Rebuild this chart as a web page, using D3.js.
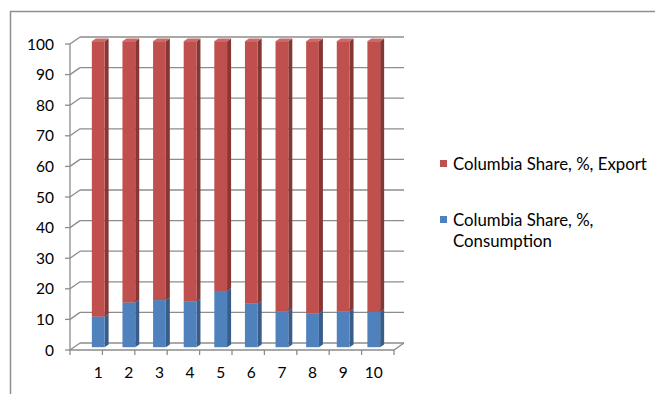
<!DOCTYPE html>
<html>
<head>
<meta charset="utf-8">
<script src="https://cdn.jsdelivr.net/npm/d3@7"></script>
<style>
  html, body { margin: 0; padding: 0; background: #fff; }
  svg text { font-family: Lato, "Open Sans", sans-serif; fill: #000; }
</style>
</head>
<body>
<svg id="chart" width="655" height="394"></svg>
<script>
// Categories and stacked series (percent shares)
const categories = ["1", "2", "3", "4", "5", "6", "7", "8", "9", "10"];
const consumption = [10, 14.6, 15.4, 14.9, 18.4, 14.3, 11.8, 11.0, 11.7, 11.5];
const exportShare = [90, 85.4, 84.6, 85.1, 81.6, 85.7, 88.2, 89.0, 88.3, 88.5];
const yTicks = [0, 10, 20, 30, 40, 50, 60, 70, 80, 90, 100];
const seriesNames = ["Columbia Share, %, Export", "Columbia Share, %, Consumption"];

const colors = {
  consumption: { front: "#4f81bd", side: "#385d8a", top: "#6a95c9" },
  export: { front: "#c0504d", side: "#863734", top: "#cd6a67" }
};

const svg = d3.select("#chart");

// Chart border
svg.append("path")
  .attr("d", "M10.5,394 V11.5 H655")
  .attr("fill", "none")
  .attr("stroke", "#8e8e8e")
  .attr("stroke-width", 1.5);

// Front plane of the 3D plot box
const x = d3.scaleBand().domain(categories).range([70, 394]).padding(0.583);
const xEdge = d3.scaleLinear().domain([0, categories.length]).range([70, 394]);
const y = d3.scaleLinear().domain([0, 100]).range([350, 44]);

// Depth vector of the box (front -> back)
const DX = 10, DY = -7;
const depth = f => [DX * f, DY * f];

const grid = "#8c8c8c";
const g = svg.append("g");

// Back-wall gridlines and left-wall diagonals
yTicks.forEach(v => {
  const yy = y(v);
  g.append("line")
    .attr("x1", 70 + DX).attr("x2", 394 + DX)
    .attr("y1", yy + DY).attr("y2", yy + DY)
    .attr("stroke", grid).attr("stroke-width", 1.3);
  g.append("line")
    .attr("x1", 70).attr("y1", yy)
    .attr("x2", 70 + DX).attr("y2", yy + DY)
    .attr("stroke", grid).attr("stroke-width", 1.3);
  // tick mark
  g.append("line")
    .attr("x1", 65).attr("x2", 70)
    .attr("y1", yy).attr("y2", yy)
    .attr("stroke", grid).attr("stroke-width", 1.3);
});

// Front vertical axis line
g.append("line")
  .attr("x1", 70).attr("x2", 70)
  .attr("y1", y(100)).attr("y2", y(0))
  .attr("stroke", grid).attr("stroke-width", 1.3);

// Floor front edge and right edge
g.append("path")
  .attr("d", `M70,${y(0)} H394 L${394 + DX},${y(0) + DY}`)
  .attr("fill", "none").attr("stroke", grid).attr("stroke-width", 1.3);

// Category ticks
d3.range(categories.length + 1).forEach(i => {
  g.append("line")
    .attr("x1", xEdge(i)).attr("x2", xEdge(i))
    .attr("y1", y(0)).attr("y2", y(0) + 5)
    .attr("stroke", grid).attr("stroke-width", 1.3);
});

// Y labels
svg.append("g").selectAll("text").data(yTicks).join("text")
  .attr("x", 54).attr("y", d => y(d))
  .attr("dy", "0.36em")
  .attr("text-anchor", "end")
  .attr("font-size", 15.5)
  .text(d => d);

// X labels
svg.append("g").selectAll("text").data(categories).join("text")
  .attr("x", d => x(d) + x.bandwidth() / 2 + 4)
  .attr("y", 378)
  .attr("text-anchor", "middle")
  .attr("font-size", 15.5)
  .text(d => d);

// 3D stacked columns
const FRONT = 0.4, BACK = 0.8;
const [fx, fy] = depth(FRONT);
const [bx, by] = depth(BACK);
const sx = bx - fx, sy = by - fy;

function drawBlock(parent, x0, w, v0, v1, c) {
  const left = x0 + fx, right = left + w;
  const bottom = y(v0) + fy, top = y(v1) + fy;
  // side face
  parent.append("path")
    .attr("d", `M${right},${bottom} L${right + sx},${bottom + sy} L${right + sx},${top + sy} L${right},${top} Z`)
    .attr("fill", c.side);
  // top face
  parent.append("path")
    .attr("d", `M${left},${top} L${right},${top} L${right + sx},${top + sy} L${left + sx},${top + sy} Z`)
    .attr("fill", c.top);
  // front face
  parent.append("rect")
    .attr("x", left).attr("y", top)
    .attr("width", w).attr("height", bottom - top)
    .attr("fill", c.front);
}

const bars = svg.append("g");
categories.forEach((cat, i) => {
  const bg = bars.append("g");
  const x0 = x(cat), w = x.bandwidth();
  drawBlock(bg, x0, w, 0, consumption[i], colors.consumption);
  drawBlock(bg, x0, w, consumption[i], consumption[i] + exportShare[i], colors.export);
});

// Legend
const legend = svg.append("g").attr("font-size", 16.8);
const leg1 = legend.append("g");
leg1.append("rect").attr("x", 440).attr("y", 160).attr("width", 7).attr("height", 7).attr("fill", colors.export.front);
leg1.append("text").attr("x", 453).attr("y", 170).text(seriesNames[0]);

const leg2 = legend.append("g");
leg2.append("rect").attr("x", 440).attr("y", 216).attr("width", 7).attr("height", 7).attr("fill", colors.consumption.front);
leg2.append("text").attr("x", 453).attr("y", 226).text("Columbia Share, %,");
leg2.append("text").attr("x", 453).attr("y", 247).text("Consumption");
</script>
</body>
</html>
